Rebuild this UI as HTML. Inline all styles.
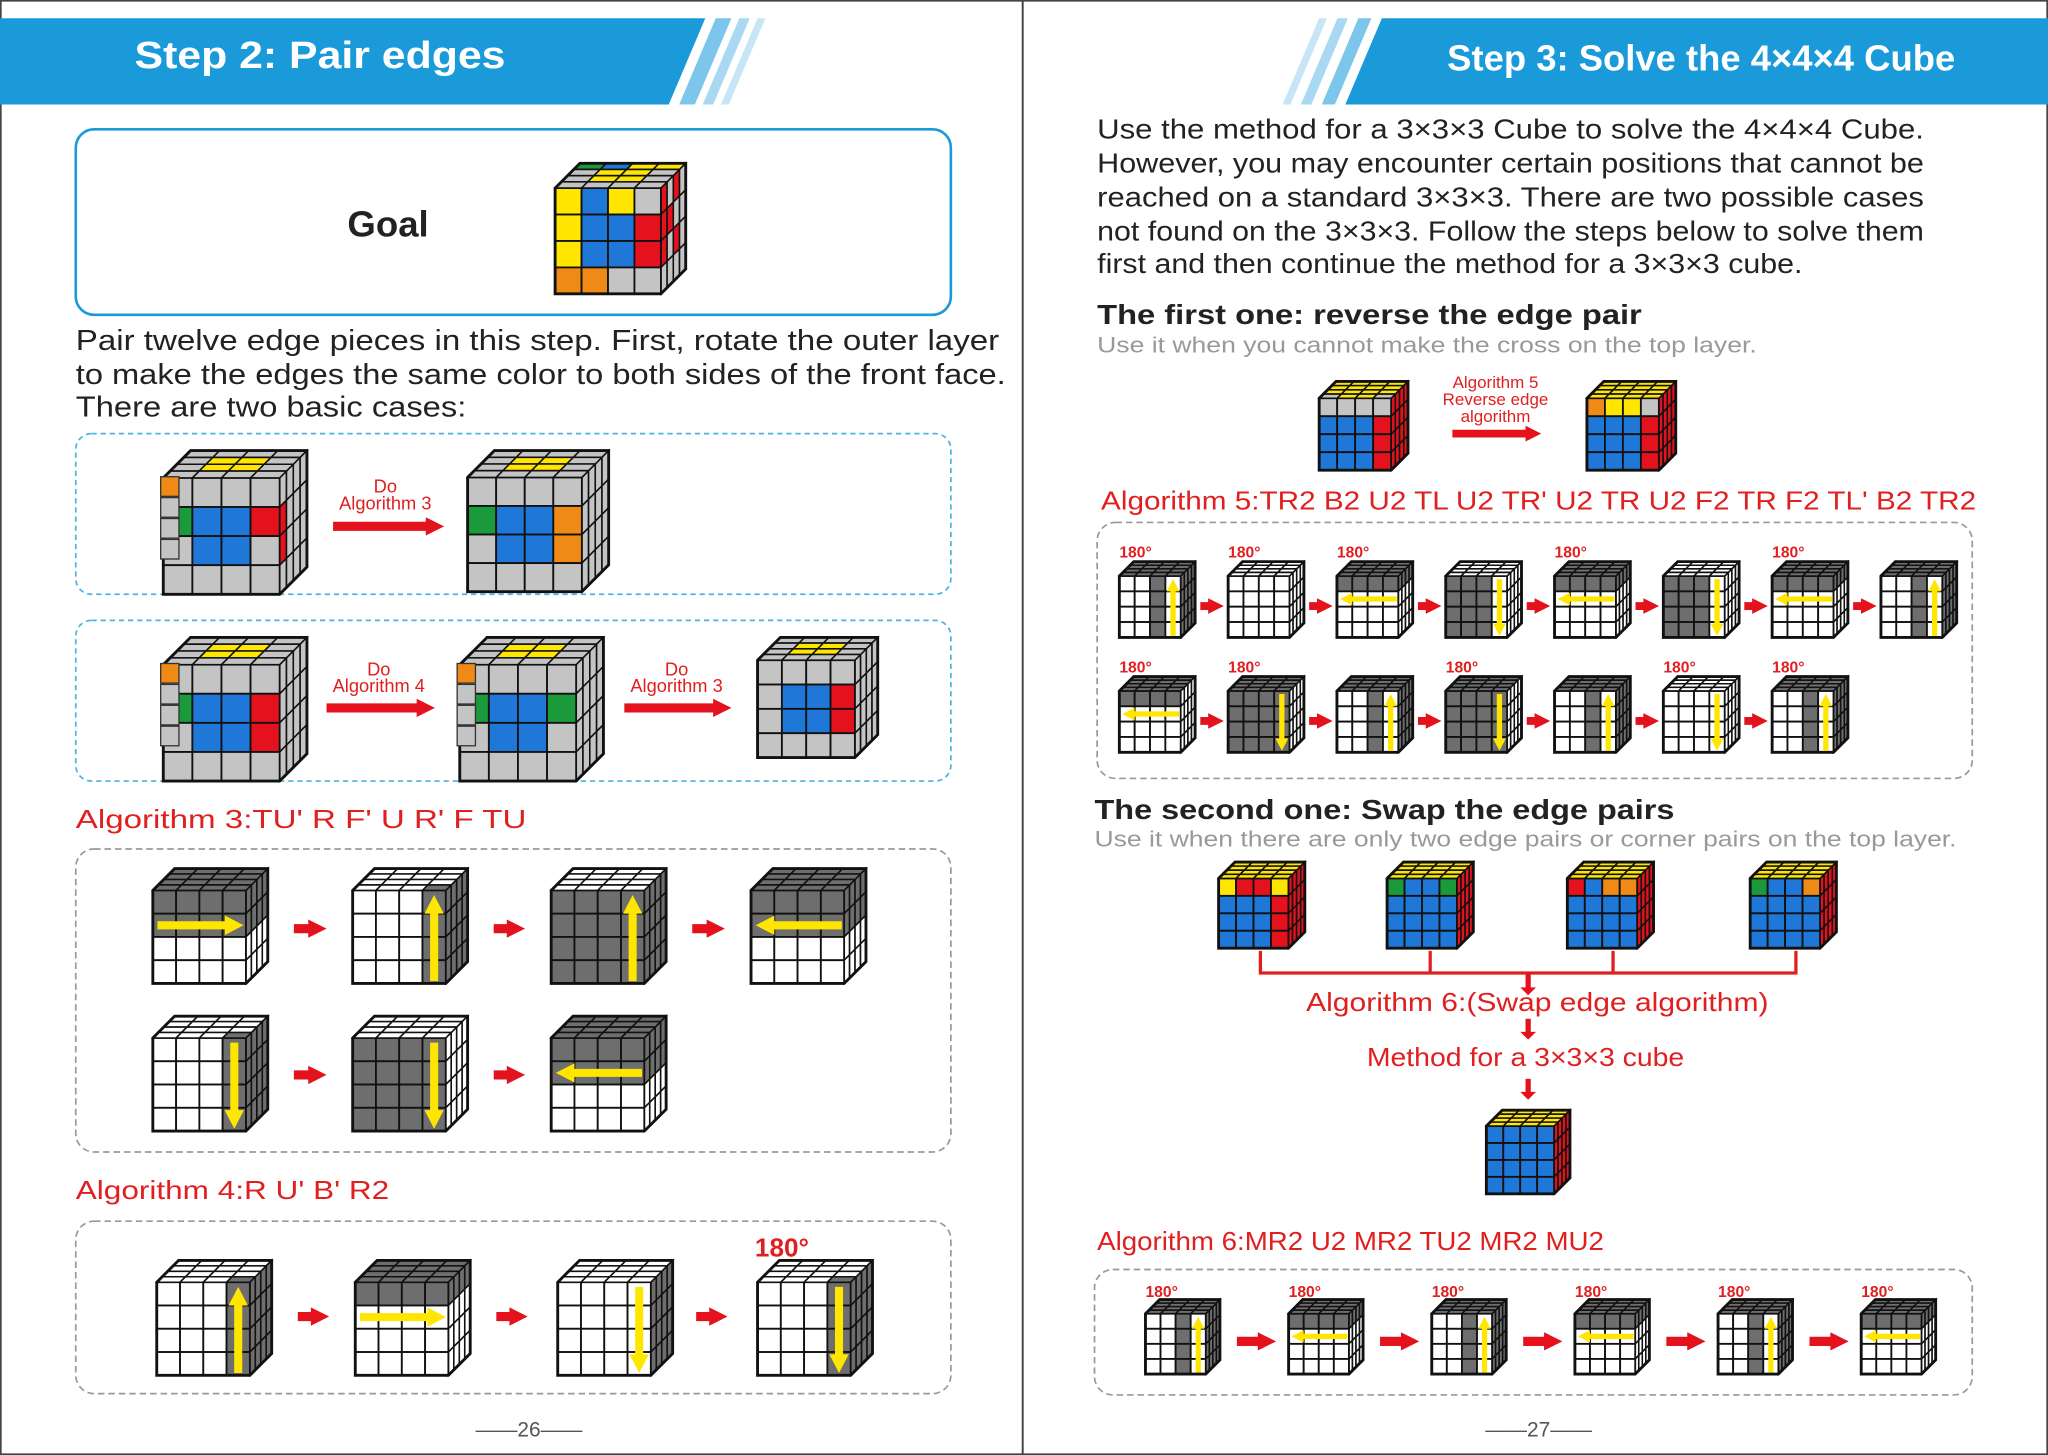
<!DOCTYPE html>
<html><head><meta charset="utf-8"><style>
html,body{margin:0;padding:0;background:#fff}
svg{display:block}
text{font-family:"Liberation Sans",sans-serif}
</style></head><body>
<svg id="pg" width="2048" height="1455" viewBox="0 0 1568 1114" xmlns="http://www.w3.org/2000/svg">
<rect x="0" y="0" width="1568" height="1114" fill="#fff"/>
<rect x="0.5" y="0.5" width="1567" height="1113" fill="none" stroke="#444" stroke-width="1.5"/>
<line x1="783" y1="0" x2="783" y2="1114" stroke="#444" stroke-width="1.5"/>

<!-- headers -->
<g>
<polygon points="0,14 540,14 512,80 0,80" fill="#1a9ad9"/>
<polygon points="548,14 560,14 532,80 520,80" fill="#7cc6ec"/>
<polygon points="566,14 574,14 546,80 538,80" fill="#a8d8f2"/>
<polygon points="580,14 586,14 558,80 552,80" fill="#c6e6f7"/>
<text x="103" y="52" font-size="29" font-weight="bold" fill="#fff" textLength="284" lengthAdjust="spacingAndGlyphs">Step 2: Pair edges</text>
</g>
<g>
<polygon points="1058,14 1568,14 1568,80 1030,80" fill="#1a9ad9"/>
<polygon points="1040,14 1050,14 1022,80 1012,80" fill="#7cc6ec"/>
<polygon points="1024,14 1032,14 1004,80 996,80" fill="#a8d8f2"/>
<polygon points="1010,14 1016,14 988,80 982,80" fill="#c6e6f7"/>
<text x="1108" y="54" font-size="28" font-weight="bold" fill="#fff" textLength="389" lengthAdjust="spacingAndGlyphs">Step 3: Solve the 4×4×4 Cube</text>
</g>

<!-- left page -->
<rect x="58" y="99" width="670" height="142" rx="14" fill="none" stroke="#1a9ad9" stroke-width="2"/>
<text x="266" y="181" font-size="28" font-weight="bold" fill="#222">Goal</text>
<g fill="#222" font-size="22">
<text x="58" y="268" textLength="707" lengthAdjust="spacingAndGlyphs">Pair twelve edge pieces in this step. First, rotate the outer layer</text>
<text x="58" y="294" textLength="712" lengthAdjust="spacingAndGlyphs">to make the edges the same color to both sides of the front face.</text>
<text x="58" y="319" textLength="299" lengthAdjust="spacingAndGlyphs">There are two basic cases:</text>
</g>
<rect x="58" y="332" width="670" height="123" rx="12" fill="none" stroke="#4ab4e4" stroke-width="1.3" stroke-dasharray="4,3"/>
<rect x="58" y="475" width="670" height="123" rx="12" fill="none" stroke="#4ab4e4" stroke-width="1.3" stroke-dasharray="4,3"/>
<g fill="#e02020" font-size="14" text-anchor="middle">
<text x="295" y="377">Do</text><text x="295" y="390">Algorithm 3</text>
<text x="290" y="517">Do</text><text x="290" y="530">Algorithm 4</text>
<text x="518" y="517">Do</text><text x="518" y="530">Algorithm 3</text>
</g>
<text x="58" y="634" font-size="20" fill="#e02020" textLength="345" lengthAdjust="spacingAndGlyphs">Algorithm 3:TU'  R  F'  U  R'  F  TU</text>
<rect x="58" y="650" width="670" height="232" rx="14" fill="none" stroke="#999" stroke-width="1.3" stroke-dasharray="5,3"/>
<text x="58" y="918" font-size="20" fill="#e02020" textLength="240" lengthAdjust="spacingAndGlyphs">Algorithm 4:R U'  B'  R2</text>
<rect x="58" y="935" width="670" height="132" rx="14" fill="none" stroke="#999" stroke-width="1.3" stroke-dasharray="5,3"/>
<text x="578" y="962" font-size="20" font-weight="bold" fill="#e02020">180°</text>
<text x="405" y="1100" font-size="16" fill="#555" text-anchor="middle" font-family="Liberation Serif">——26——</text>

<!-- right page -->
<g fill="#222" font-size="21">
<text x="840" y="106" textLength="633" lengthAdjust="spacingAndGlyphs">Use the method for a 3×3×3 Cube to solve the 4×4×4 Cube.</text>
<text x="840" y="132" textLength="633" lengthAdjust="spacingAndGlyphs">However, you may encounter certain positions that cannot be</text>
<text x="840" y="158" textLength="633" lengthAdjust="spacingAndGlyphs">reached on a standard 3×3×3. There are two possible cases</text>
<text x="840" y="184" textLength="633" lengthAdjust="spacingAndGlyphs">not found on the 3×3×3. Follow the steps below to solve them</text>
<text x="840" y="209" textLength="540" lengthAdjust="spacingAndGlyphs">first and then continue the method for a 3×3×3 cube.</text>
</g>
<text x="840" y="248" font-size="21" font-weight="bold" fill="#222" textLength="417" lengthAdjust="spacingAndGlyphs">The first one: reverse the edge pair</text>
<text x="840" y="270" font-size="17" fill="#999" textLength="505" lengthAdjust="spacingAndGlyphs">Use it when you cannot make the cross on the top layer.</text>
<g fill="#e02020" font-size="13" text-anchor="middle">
<text x="1145" y="297">Algorithm 5</text><text x="1145" y="310">Reverse edge</text><text x="1145" y="323">algorithm</text>
</g>
<text x="843" y="390" font-size="20" fill="#e02020" textLength="670" lengthAdjust="spacingAndGlyphs">Algorithm 5:TR2  B2  U2  TL  U2  TR'  U2  TR  U2  F2  TR  F2  TL'  B2  TR2</text>
<rect x="840" y="400" width="670" height="196" rx="14" fill="none" stroke="#999" stroke-width="1.3" stroke-dasharray="5,3"/>
<text x="838" y="627" font-size="21" font-weight="bold" fill="#222" textLength="444" lengthAdjust="spacingAndGlyphs">The second one: Swap the edge pairs</text>
<text x="838" y="648" font-size="17" fill="#999" textLength="660" lengthAdjust="spacingAndGlyphs">Use it when there are only two edge pairs or corner pairs on the top layer.</text>
<path d="M965,728 V745 H1375 V728 M1095,728 V745 M1235,728 V745" fill="none" stroke="#e02020" stroke-width="2.5"/>
<text x="1177" y="774" font-size="20" fill="#e02020" text-anchor="middle" textLength="354" lengthAdjust="spacingAndGlyphs">Algorithm 6:(Swap edge algorithm)</text>
<text x="1168" y="816" font-size="20" fill="#e02020" text-anchor="middle" textLength="243" lengthAdjust="spacingAndGlyphs">Method for a 3×3×3 cube</text>
<text x="840" y="957" font-size="20" fill="#e02020" textLength="388" lengthAdjust="spacingAndGlyphs">Algorithm 6:MR2  U2  MR2  TU2  MR2  MU2</text>
<rect x="838" y="972" width="672" height="96" rx="14" fill="none" stroke="#999" stroke-width="1.3" stroke-dasharray="5,3"/>
<text x="1178" y="1100" font-size="16" fill="#555" text-anchor="middle" font-family="Liberation Serif">——27——</text>
<g id="dyn"></g>
</svg>
<script>
const NS='http://www.w3.org/2000/svg';
const pal={W:'#fff',G:'#6e6e6e',L:'#c4c4c4',Y:'#ffe600',B:'#1f78d8',R:'#e3121c',O:'#f08a16',N:'#1a9a3a'};
// cube list: [x, y, size, front, top, right, arrow]
const cubes=[
 [425,125,100,'YBYL YBBR YBBR OOLL','NBYY LYYL LYYL LLLL','RLRL RRLL RLRL LLLL',''],
 [125,345,110,'LLLL NBBR LBBL LLLL','LLLL LYYL LYYL LLLL','LLLL RLLL RLLL LLLL',''],
 [358,345,108,'LLLL NBBO LBBO LLLL','LLLL LYYL LYYL LLLL','LLLL LLLL LLLL LLLL',''],
 [125,488,110,'LLLL NBBR LBBR LLLL','LLLL LYYL LYYL LLLL','LLLL LLLL LLLL LLLL',''],
 [352,488,110,'LLLL NBBN LBBL LLLL','LLLL LYYL LYYL LLLL','LLLL LLLL LLLL LLLL',''],
 [580,488,92,'LLLL LBBR LBBR LLLL','LLLL LYYL LYYL LLLL','LLLL LLLL LLLL LLLL',''],
 [117,665,88,'GGGG GGGG WWWW WWWW','GGGG GGGG GGGG GGGG','GGGG GGGG WWWW WWWW','r'],
 [270,665,88,'WWWG WWWG WWWG WWWG','WWWW WWWW WWWW WWWG','GGGG GGGG GGGG GGGG','u'],
 [422,665,88,'GGGG GGGG GGGG GGGG','WWWW WWWW WWWW WWWW','GGGG GGGG GGGG GGGG','u'],
 [575,665,88,'GGGG GGGG WWWW WWWW','GGGG GGGG GGGG GGGG','GGGG GGGG WWWW WWWW','l'],
 [117,778,88,'WWWG WWWG WWWG WWWG','WWWW WWWW WWWW WWWG','GGGG GGGG GGGG GGGG','d'],
 [270,778,88,'GGGG GGGG GGGG GGGG','WWWW WWWW WWWW WWWW','WWWW WWWW WWWW WWWW','d'],
 [422,778,88,'GGGG GGGG WWWW WWWW','GGGG GGGG GGGG GGGG','GGGG GGGG WWWW WWWW','l'],
 [120,965,88,'WWWG WWWG WWWG WWWG','WWWW WWWW WWWW WWWG','GGGG GGGG GGGG GGGG','u'],
 [272,965,88,'GGGG WWWW WWWW WWWW','GGGG GGGG GGGG GGGG','GGGG WWWW WWWW WWWW','r'],
 [427,965,88,'WWWW WWWW WWWW WWWW','WWWW WWWW WWWW WWWW','GGGG GGGG GGGG GGGG','d'],
 [580,965,88,'WWWG WWWG WWWG WWWG','WWWW WWWW WWWW WWWG','GGGG GGGG GGGG GGGG','d'],
 [1010,292,68,'LLLL BBBR BBBR BBBR','YYYY YYYY YYYY LYYL','RRRR RRRR RRRR RRRR',''],
 [1215,292,68,'OYYL BBBR BBBR BBBR','YYYY YYYY YYYY YYYY','RRRR RRRR RRRR RRRR',''],
 [933,660,66,'YRRY BBBR BBBR BBBR','YYYY YYYY YYYY YYYY','RRRR RRRR RRRR RRRR',''],
 [1062,660,66,'NBBN BBBB BBBB BBBB','YYYY YYYY YYYY YYYY','RRRR RRRR RRRR RRRR',''],
 [1200,660,66,'RBOO BBBB BBBB BBBB','YYYY YYYY YYYY YYYY','RRRR RRRR RRRR RRRR',''],
 [1340,660,66,'NBBO BBBB BBBB BBBB','YYYY YYYY YYYY YYYY','RRRR RRRR RRRR RRRR',''],
 [1138,850,64,'BBBB BBBB BBBB BBBB','YYYY YYYY YYYY YYYY','RRRR RRRR RRRR RRRR','']
];
// algorithm 5 row cubes (col index, row, pattern key)
const a5cols=[0,1,2,3,4,5,6,7,0,1,2,3,4,5,6];
const a5rows=[0,0,0,0,0,0,0,0,1,1,1,1,1,1,1];
const a5pat=['a','b','c','d','c','d','c','a','e','f','a','f','a','b','a'];
const a5arrow=['u','','l','d','l','d','l','u','l','d','u','d','u','d','u'];
const a5deg=[1,1,1,0,1,0,1,0,1,1,0,1,0,1,1];
const a6pat=['a','c','a','c','a','c'];
const a6arrow=['u','l','u','l','u','l'];
const pats={
 a:['WWGW WWGW WWGW WWGW','GGGG GGGG GGGG GGGG','GGGG GGGG GGGG GGGG'],
 b:['WWWW WWWW WWWW WWWW','WWWW WWWW WWWW WWWW','WWWW WWWW WWWW WWWW'],
 c:['GGGG WWWW WWWW WWWW','GGGG GGGG GGGG GGGG','GGGG WWWW WWWW WWWW'],
 d:['GGGW GGGW GGGW GGGW','WWWW WWWW WWWW WWWW','WWWW WWWW WWWW WWWW'],
 e:['GGGG WWWW WWWW WWWW','GGGG GGGG GGGG GGGG','WWWW WWWW WWWW WWWW'],
 f:['GGGG GGGG GGGG GGGG','GGGG GGGG GGGG GGGG','WWWW WWWW WWWW WWWW']
};
const dyn=document.getElementById('dyn');
function mk(tag,attrs,parent){const e=document.createElementNS(NS,tag);for(const k in attrs)e.setAttribute(k,attrs[k]);(parent||dyn).appendChild(e);return e;}
function drawCube(x,y,s,front,top,right,arrow,nm){
 const g=mk('g',{});
 
 
 const d=s*0.19,f=s-d;
 const F=front.replace(/ /g,''),T=top.replace(/ /g,''),R=right.replace(/ /g,'');
 const c=f/4,dd=d/4;
 for(let r=0;r<4;r++)for(let k=0;k<4;k++){
  mk('rect',{x:x+k*c,y:y+d+r*c,width:c,height:c,fill:pal[F[r*4+k]],stroke:'#111','stroke-width':1.4},g);
  const tx=x+k*c+(4-r)*dd, ty=y+(r)*dd;
  const tp=[[x+k*c+(3-r+1)*dd,y+r*dd],[x+(k+1)*c+(3-r+1)*dd,y+r*dd],[x+(k+1)*c+(3-r)*dd,y+(r+1)*dd],[x+k*c+(3-r)*dd,y+(r+1)*dd]];
  mk('polygon',{points:tp.map(p=>p.join(',')).join(' '),fill:pal[T[r*4+k]],stroke:'#111','stroke-width':1.2},g);
  const rp=[[x+f+k*dd,y+d-k*dd+r*c],[x+f+(k+1)*dd,y+d-(k+1)*dd+r*c],[x+f+(k+1)*dd,y+d-(k+1)*dd+(r+1)*c],[x+f+k*dd,y+d-k*dd+(r+1)*c]];
  mk('polygon',{points:rp.map(p=>p.join(',')).join(' '),fill:pal[R[r*4+k]],stroke:'#111','stroke-width':1.2},g);
 }
 mk('polygon',{points:`${x},${y+d} ${x+d},${y} ${x+s},${y} ${x+s},${y+f} ${x+f},${y+s} ${x},${y+s}`,fill:'none',stroke:'#111','stroke-width':2.2},g);
 const yc='#ffe600',w=s*0.07;
 if(arrow==='r'||arrow==='l'){const ay=y+d+c*1.5;const x0=x+c*0.2,x1=x+f-c*0.1;
  const tip=arrow==='r'?x1:x0,base=arrow==='r'?x1-c*0.8:x0+c*0.8,tail=arrow==='r'?x0:x1;
  mk('polygon',{points:`${tail},${ay-w/2} ${base},${ay-w/2} ${base},${ay-w*1.2} ${tip},${ay} ${base},${ay+w*1.2} ${base},${ay+w/2} ${tail},${ay+w/2}`,fill:yc},g);}
 if(arrow==='u'||arrow==='d'){const ax=x+c*3.5;const y0=y+d+c*0.2,y1=y+s-c*0.1;
  const tip=arrow==='d'?y1:y0,base=arrow==='d'?y1-c*0.8:y0+c*0.8,tail=arrow==='d'?y0:y1;
  mk('polygon',{points:`${ax-w/2},${tail} ${ax-w/2},${base} ${ax-w*1.2},${base} ${ax},${tip} ${ax+w*1.2},${base} ${ax+w/2},${base} ${ax+w/2},${tail}`,fill:yc},g);}
}
function redArrow(x0,x1,y,h,nm){const a=mk('polygon',{points:`${x0},${y-h/4} ${x1-h},${y-h/4} ${x1-h},${y-h/2} ${x1},${y} ${x1-h},${y+h/2} ${x1-h},${y+h/4} ${x0},${y+h/4}`,fill:'#e3121c'});
 
 }
function downArrow(x,y0,y1,nm){const a=mk('polygon',{points:`${x-2},${y0} ${x+2},${y0} ${x+2},${y1-6} ${x+6},${y1-6} ${x},${y1} ${x-6},${y1-6} ${x-2},${y1-6}`,fill:'#e3121c'});
 
 }
cubes.forEach((q,i)=>drawCube(q[0],q[1],q[2],q[3],q[4],q[5],q[6],'cube-'+i));
// side sticker strips (case cubes)
[[123,365],[123,508],[350,508]].forEach(p=>{for(let r=0;r<4;r++){const e=mk('rect',{x:p[0],y:p[1]+r*16,width:14,height:15,fill:r===0?'#f08a16':'#c4c4c4',stroke:'#333','stroke-width':1});
 
 }});
// algorithm 5
a5cols.forEach((col,i)=>{const x=857+col*83.3,y=a5rows[i]?518:430;const p=pats[a5pat[i]];
 drawCube(x,y,58,p[0],p[1],p[2],a5arrow[i],'alg5-cube-'+i);
 if(a5deg[i]){const t=mk('text',{x:x,y:y-3,'font-size':12,'font-weight':'bold',fill:'#e02020'});t.textContent='180°';
  
  }
 const last=(i===7||i===14);if(!last)redArrow(x+62,x+80,y+34,12,'alg5-step-arrow');});
// algorithm 6
a6pat.forEach((k,i)=>{const x=877+i*109.6,y=995;const p=pats[k];
 drawCube(x,y,57,p[0],p[1],p[2],a6arrow[i],'alg6-cube-'+i);
 const t=mk('text',{x:x,y:y-2,'font-size':12,'font-weight':'bold',fill:'#e02020'});t.textContent='180°';
 
 
 if(i<5)redArrow(x+70,x+100,y+32,14,'alg6-step-arrow');});
// left arrows
redArrow(255,340,403,14,'case1-arrow');redArrow(250,333,542,14,'case2-arrow-a');redArrow(478,560,542,14,'case2-arrow-b');
[[225,250,711],[378,402,711],[530,555,711],[225,250,823],[378,402,823],[228,252,1008],[380,404,1008],[533,557,1008]].forEach(a=>redArrow(a[0],a[1],a[2],14,'step-arrow'));
redArrow(1112,1180,332,12,'alg5-arrow');
downArrow(1170,780,796,'down-arrow-1');downArrow(1170,826,842,'down-arrow-2');downArrow(1170,745,762,'bracket-down');
</script>
</body></html>
